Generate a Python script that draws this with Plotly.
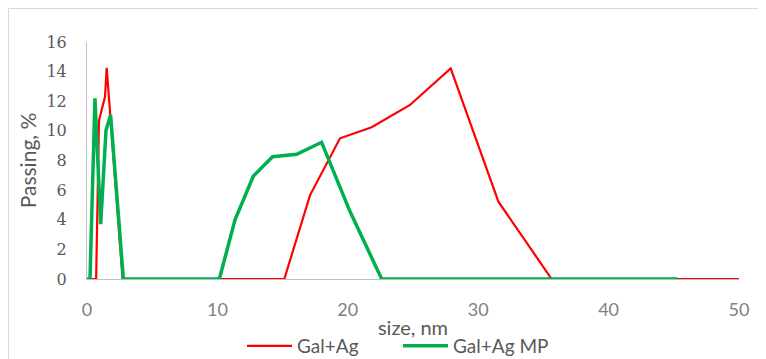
import plotly.graph_objects as go

# Data
red_name = "Gal+Ag"
red_x = [0, 0.7, 0.92, 1.38, 1.51, 2.73, 15.13, 17.1, 19.4, 21.83, 24.77, 27.89, 31.55, 35.63, 50]
red_y = [0, 0, 10.7, 12.3, 14.25, 0, 0, 5.65, 9.5, 10.24, 11.75, 14.22, 5.22, 0, 0]

green_name = "Gal+Ag MP"
green_x = [0, 0.23, 0.61, 1.05, 1.46, 1.81, 2.79, 10.15, 11.35, 12.76, 14.23, 16.08, 17.99, 20.17, 22.6, 45.3]
green_y = [0, 0, 12.2, 3.7, 10.06, 11.07, 0, 0, 4.0, 6.95, 8.26, 8.42, 9.23, 4.55, 0, 0]

x_ticks = [0, 10, 20, 30, 40, 50]
y_ticks = [0, 2, 4, 6, 8, 10, 12, 14, 16]

fig = go.Figure()
fig.add_trace(go.Scatter(x=red_x, y=red_y, mode="lines", name=red_name,
                         line=dict(color="#FF0000", width=2.2)))
fig.add_trace(go.Scatter(x=green_x, y=green_y, mode="lines", name=green_name,
                         line=dict(color="#00B050", width=3.5)))

# page has an 8px body margin; figure coordinates = page coordinates - 8
OFF = 8
W, H = 766 - OFF, 359 - OFF
L, T = 87 - OFF, 42 - OFF
R = W - (739 - OFF)
B = H - (279 - OFF)
pw, ph = W - L - R, H - T - B

def px2paper_x(px):
    return (px - OFF - L) / pw

def px2paper_y(py):
    return (H - B - (py - OFF)) / ph

fig.update_layout(
    width=W, height=H,
    margin=dict(l=L, r=R, t=T, b=B, autoexpand=False),
    paper_bgcolor="white", plot_bgcolor="white",
    font=dict(family="Lato, Open Sans, sans-serif", color="#595959"),
    showlegend=True,
    legend=dict(orientation="h", x=px2paper_x(242), xanchor="left",
                y=px2paper_y(346), yanchor="middle",
                font=dict(size=19, color="#595959"), itemwidth=45,
                entrywidth=96, entrywidthmode="pixels",
                bgcolor="rgba(0,0,0,0)"),
    xaxis=dict(range=[0, 50], tickvals=x_ticks, showgrid=False, zeroline=False,
               showline=True, linecolor="#BFBFBF", linewidth=1, automargin=False,
               ticks="", tickfont=dict(size=18, color="#808080"),
               ticklabelstandoff=14,
               title=dict(text="size, nm", font=dict(size=20, color="#595959"), standoff=2)),
    yaxis=dict(range=[0, 16], tickvals=y_ticks, showgrid=False, zeroline=False,
               showline=True, linecolor="#BFBFBF", linewidth=1, automargin=False,
               ticks="", tickfont=dict(size=16, color="#595959",
                                        family="DejaVu Serif, serif"),
               ticklabelstandoff=16,
               title=dict(text="Passing, %", font=dict(size=21, color="#595959"), standoff=4)),
    shapes=[
        dict(type="line", xref="paper", yref="paper",
             x0=px2paper_x(8.5), x1=px2paper_x(766), y0=px2paper_y(8.5), y1=px2paper_y(8.5),
             line=dict(color="#D9D9D9", width=1)),
        dict(type="line", xref="paper", yref="paper",
             x0=px2paper_x(8.5), x1=px2paper_x(8.5), y0=px2paper_y(8.5), y1=px2paper_y(359),
             line=dict(color="#D9D9D9", width=1)),
    ],
)

fig.write_html("out.html")
